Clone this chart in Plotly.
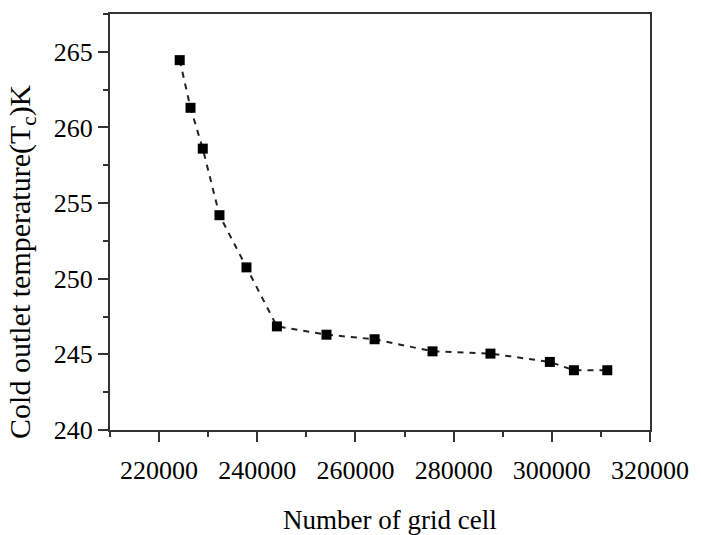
import plotly.graph_objects as go

grid_cells = [224200, 226400, 228900, 232300, 237800, 244000, 254100,
              263900, 275700, 287500, 299600, 304500, 311300]
cold_outlet_T = [264.45, 261.3, 258.6, 254.2, 250.75, 246.85, 246.3,
                 246.0, 245.2, 245.05, 244.5, 243.95, 243.95]

x_ticks = [220000, 240000, 260000, 280000, 300000, 320000]
y_ticks = [240, 245, 250, 255, 260, 265]

x_title = "Number of grid cell"
y_title = "Cold outlet temperature(T<sub>c</sub>)K"

font_family = "Liberation Serif, Times New Roman, serif"

fig = go.Figure()
fig.add_trace(go.Scatter(
    x=grid_cells, y=cold_outlet_T, mode="lines+markers",
    line=dict(color="#222222", width=2, dash="6px,6px"),
    marker=dict(symbol="square", size=10, color="black"),
    showlegend=False,
))

axis_common = dict(
    showline=True, linecolor="#333333", linewidth=2, mirror=True,
    ticks="outside", ticklen=10, tickwidth=2, tickcolor="#333333",
    showgrid=False, zeroline=False,
    tickfont=dict(family=font_family, size=26, color="black"),
)

fig.update_xaxes(
    range=[210000, 320000], tickvals=x_ticks,
    ticktext=[str(v) for v in x_ticks],
    ticklabelstandoff=6,
    minor=dict(dtick=10000, tick0=210000, ticks="outside", ticklen=5,
               tickwidth=2, tickcolor="#333333", showgrid=False),
    **axis_common,
)
fig.update_yaxes(
    range=[240, 267.5], tickvals=y_ticks,
    ticktext=[str(v) for v in y_ticks],
    minor=dict(dtick=2.5, tick0=240, ticks="outside", ticklen=5,
               tickwidth=2, tickcolor="#333333", showgrid=False),
    **axis_common,
)

fig.add_annotation(
    text=x_title, xref="paper", yref="paper", x=0.5, y=0,
    xshift=10, yshift=-90, xanchor="center", yanchor="middle",
    showarrow=False, font=dict(family=font_family, size=27, color="black"),
)
fig.add_annotation(
    text=y_title, xref="paper", yref="paper", x=0, y=0.404,
    xshift=-88, xanchor="center", yanchor="middle", textangle=-90,
    showarrow=False, font=dict(family=font_family, size=30, color="black"),
)

fig.update_layout(
    width=701, height=535,
    margin=dict(l=110, r=44, t=14, b=105),
    plot_bgcolor="white", paper_bgcolor="white",
)

fig.write_html("out.html")
